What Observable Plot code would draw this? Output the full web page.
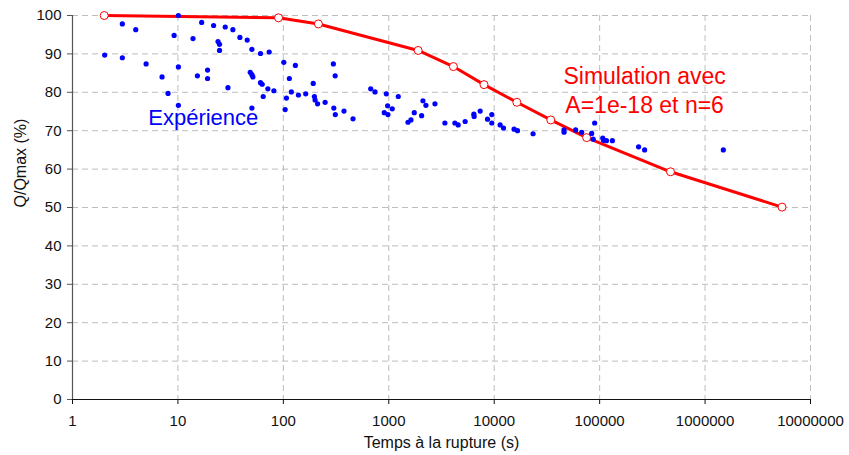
<!DOCTYPE html>
<html>
<head>
<meta charset="utf-8">
<script src="https://cdn.jsdelivr.net/npm/d3@7"></script>
<script src="https://cdn.jsdelivr.net/npm/@observablehq/plot@0.6"></script>
<style>
  html, body { margin: 0; padding: 0; background: #fff; }
  #chart svg { display: block; }
</style>
</head>
<body>
<div id="chart"></div>
<script>
// Experimental points: time to rupture (s) and Q/Qmax (%)
const expTime = [2.02, 2.97, 2.97, 3.98, 4.99, 7.07, 8.06, 9.2, 10.1, 10.1, 10.1, 13.9, 15.3, 16.8, 19.1, 19.1, 21.8, 24, 24.8, 24.8, 28.1, 29.8, 33.2, 38.7, 45.4, 48.5, 50.3, 50.3, 51.4, 50.3, 60.7, 60.7, 63, 64.4, 71.3, 73.4, 81.3, 101, 104, 107, 114, 119, 130, 139, 163, 192, 197, 200, 211, 249, 298, 310, 301, 311, 376, 458, 674, 740, 947, 906, 982, 975, 1079, 1230, 1521, 1623, 1745, 2049, 2109, 2250, 2740, 3406, 4234, 4550, 5300, 6410, 6450, 7360, 8640, 9490, 9490, 11380, 12250, 15440, 16630, 23370, 45900, 46000, 59200, 67500, 84000, 89700, 86800, 107000, 109000, 116000, 132000, 234000, 267000, 1490000];
const expQ = [89.7, 97.8, 89.0, 96.3, 87.4, 84.0, 79.7, 94.8, 100.0, 86.6, 76.6, 94.0, 84.3, 98.2, 85.8, 83.6, 97.4, 93.2, 92.5, 90.9, 97.0, 81.2, 96.3, 94.3, 93.6, 85.2, 91.2, 84.6, 84.0, 75.9, 90.1, 82.5, 82.1, 78.9, 80.9, 90.5, 80.4, 87.8, 75.5, 78.5, 83.6, 80.1, 87.0, 79.3, 79.6, 82.3, 78.9, 78.0, 77.0, 77.4, 87.4, 84.3, 75.9, 74.2, 75.1, 73.1, 80.9, 80.1, 79.6, 74.7, 74.2, 76.5, 75.7, 78.9, 72.2, 72.8, 74.7, 73.9, 77.8, 76.6, 77.0, 72.0, 72.0, 71.5, 72.4, 74.3, 73.7, 75.1, 73.0, 74.2, 72.0, 71.5, 70.7, 70.4, 70.0, 69.2, 70.2, 69.6, 70.2, 69.6, 69.3, 72.0, 67.8, 68.1, 67.5, 67.4, 67.4, 65.8, 65.0, 65.0];

// Simulation (A=1e-18, n=6)
const simTime = [2, 90, 215, 1900, 4100, 8000, 16400, 34400, 75300, 470000, 5370000];
const simQ = [100, 99.4, 97.8, 90.9, 86.7, 82.0, 77.4, 72.8, 68.2, 59.3, 50.1];

// Axis ticks and texts
const xTicks = [1, 10, 100, 1000, 10000, 100000, 1000000, 10000000];
const yTicks = [0, 10, 20, 30, 40, 50, 60, 70, 80, 90, 100];
const xTitle = "Temps à la rupture (s)";
const yTitle = "Q/Qmax (%)";
const expLabel = {text: "Expérience", t: 17.4, q: 73.2};
const simLabels = [
  {text: "Simulation avec", t: 267000, q: 84.0},
  {text: "A=1e-18 et n=6", t: 267000, q: 76.6}
];

const expData = expTime.map((t, i) => ({t, q: expQ[i]}));
const simData = simTime.map((t, i) => ({t, q: simQ[i]}));

const font = "'Liberation Sans', Arial, Helvetica, sans-serif";

const chart = Plot.plot({
  width: 849,
  height: 455,
  marginLeft: 72,
  marginRight: 39,
  marginTop: 15,
  marginBottom: 56,
  style: {fontFamily: font, fontSize: "15px", background: "#fff", color: "#111"},
  x: {type: "log", domain: [1, 1e7]},
  y: {domain: [0, 100]},
  marks: [
    Plot.gridX(xTicks.slice(1), {stroke: "#bdbdbd", strokeOpacity: 1, strokeDasharray: "6,4"}),
    Plot.gridY(yTicks.slice(1), {stroke: "#bdbdbd", strokeOpacity: 1, strokeDasharray: "6,4"}),
    Plot.axisY(yTicks, {tickSize: 5, tickPadding: 6, stroke: "#555", label: null, fontSize: 15, fill: "#111"}),
    Plot.axisX(xTicks, {tickSize: 5, tickPadding: 11, stroke: "#111", label: null, fontSize: 15, fill: "#111", tickFormat: d => String(d)}),
    Plot.ruleX([1], {stroke: "#555", strokeWidth: 1.2}),
    Plot.ruleY([0], {stroke: "#111", strokeWidth: 1.2}),
    Plot.line(simData, {x: "t", y: "q", stroke: "#ff0000", strokeWidth: 3}),
    Plot.dot(simData, {x: "t", y: "q", r: 4, stroke: "#ff0000", strokeWidth: 1, fill: "#fff"}),
    Plot.dot(expData, {x: "t", y: "q", r: 2.6, fill: "#0000ff", stroke: "none"}),
    Plot.text([expLabel], {x: "t", y: "q", text: "text", fill: "#0000ff", fontSize: 22, textAnchor: "middle", lineAnchor: "middle"}),
    Plot.text(simLabels, {x: "t", y: "q", text: "text", fill: "#ff0000", fontSize: 23, textAnchor: "middle", lineAnchor: "middle"}),
    Plot.text([xTitle], {frameAnchor: "bottom", dy: 43, text: d => d, fontSize: 16, fill: "#111", lineAnchor: "middle"}),
    Plot.text([yTitle], {frameAnchor: "left", dx: -52, rotate: -90, text: d => d, fontSize: 16, fill: "#111", lineAnchor: "middle"})
  ]
});
document.getElementById("chart").appendChild(chart);
</script>
</body>
</html>
